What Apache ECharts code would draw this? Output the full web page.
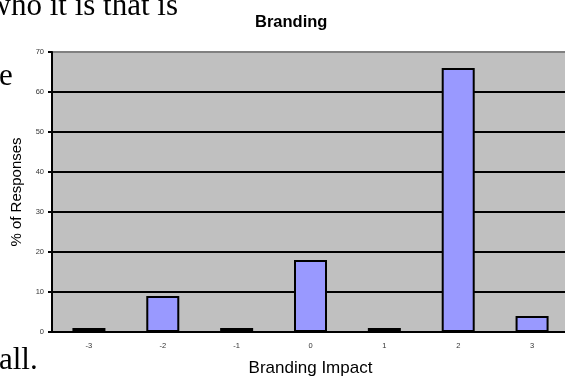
<!DOCTYPE html>
<html>
<head>
<meta charset="utf-8">
<script src="https://cdn.jsdelivr.net/npm/echarts@6/dist/echarts.min.js"></script>
<style>
  html, body { margin: 0; padding: 0; background: #fff; }
  #chart { width: 565px; height: 379px; }
</style>
</head>
<body>
<div id="chart"></div>
<script>
var chart = echarts.init(document.getElementById('chart'));

var categories = ['-3', '-2', '-1', '0', '1', '2', '3'];
var responses = [1, 9, 1, 18, 1, 66, 4];
// y gridlines 0..70, top one is grey
var splitColors = ['#000', '#000', '#000', '#000', '#000', '#000', '#000', '#808080'];

var serif = '31px "Liberation Serif", "Times New Roman", serif';

var option = {
    backgroundColor: '#fff',
    animation: false,
    title: {
        text: 'Branding',
        left: 250,
        top: 9,
        textStyle: { fontFamily: 'Liberation Sans', fontSize: 16.5, fontWeight: 'bold', color: '#000' }
    },
    // bits of the surrounding document text
    graphic: [
        { type: 'text', style: { x: 178, y: -9, text: 'who it is that is', textAlign: 'right', font: serif, fill: '#000' } },
        { type: 'text', style: { x: -1, y: 61, text: 'e', font: serif, fill: '#000' } },
        { type: 'text', style: { x: -1, y: 345, text: 'all.', font: serif, fill: '#000' } }
    ],
    grid: {
        left: 52, top: 52, right: -4, bottom: 47,
        outerBoundsMode: 'none',
        show: true, backgroundColor: '#C0C0C0', borderWidth: 0
    },
    xAxis: {
        type: 'category',
        data: categories,
        name: 'Branding Impact',
        nameLocation: 'middle',
        nameGap: 28,
        nameTextStyle: { fontFamily: 'Liberation Sans', fontSize: 17, color: '#000' },
        axisLine: { lineStyle: { color: '#000', width: 2 } },
        axisTick: { length: 3, lineStyle: { color: '#000', width: 2 } },
        axisLabel: { fontFamily: 'Liberation Sans', fontSize: 7.5, color: '#333', margin: 10 }
    },
    yAxis: {
        type: 'value',
        min: 0, max: 70, interval: 10,
        name: '% of Responses',
        nameLocation: 'middle',
        nameGap: 17,
        nameTextStyle: { fontFamily: 'Liberation Sans', fontSize: 15, color: '#000' },
        axisLine: { show: true, lineStyle: { color: '#000', width: 2 } },
        axisTick: { show: true, length: 4, lineStyle: { color: '#000', width: 2 } },
        axisLabel: { fontFamily: 'Liberation Sans', fontSize: 7.5, color: '#333', margin: 8 },
        splitLine: { lineStyle: { color: splitColors, width: 2 } }
    },
    series: [{
        type: 'bar',
        data: responses,
        barWidth: 33,
        itemStyle: { color: '#9999FF', borderColor: '#000', borderWidth: 2 }
    }]
};

chart.setOption(option);
</script>
</body>
</html>
